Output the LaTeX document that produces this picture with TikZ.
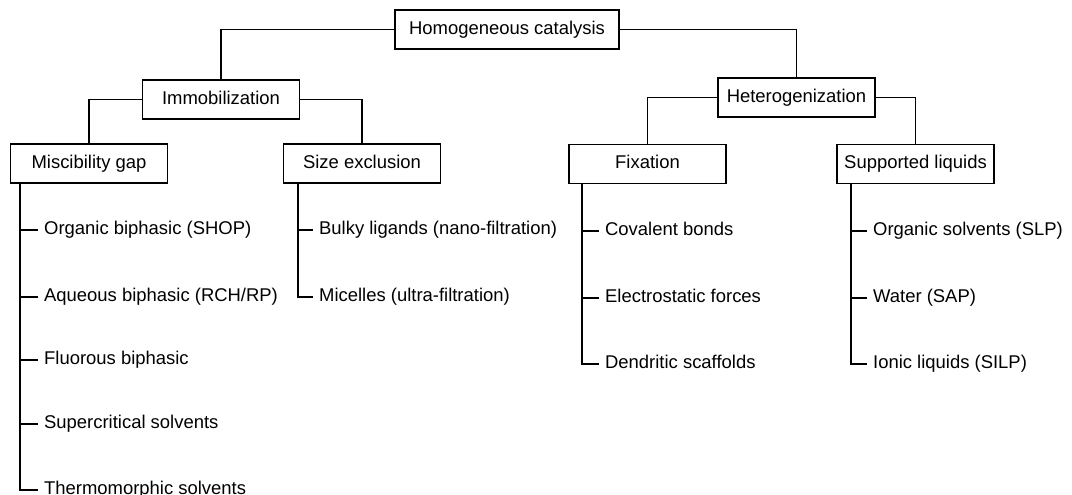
\documentclass[tikz,border=0pt]{standalone}
\usepackage{fontspec}
\setmainfont{Liberation Sans}
\usepackage{tikz}

\begin{document}
\begin{tikzpicture}[x=0.02cm, y=-0.02cm, line width=1pt, font=\fontsize{10.5}{12}\selectfont,
        box/.style={draw, minimum width=3.14cm, minimum height=0.78cm, text height=0.75em, text depth=0.22em},
        leaf/.style={anchor=west, inner sep=3pt, text height=0.75em, text depth=0.22em}]
        \useasboundingbox (0,0) rectangle (1072,494);
        % boxes
        \node[box, minimum width=4.48cm] (homo) at (507,29.5) {Homogeneous catalysis};
        \node[box] (immo) at (221,99.5) {Immobilization};
        \node[box] (hetero) at (796.5,97.5) {Heterogenization};
        \node[box] (misc) at (89,163.5) {Miscibility gap};
        \node[box] (size) at (362,163.5) {Size exclusion};
        \node[box] (fix) at (647.5,164) {Fixation};
        \node[box] (supp) at (915.5,164) {Supported liquids};
        \draw (homo.west) -| (immo.north);
        \draw (homo.east) -| (hetero.north);
        \draw (immo.west) -| (misc.north);
        \draw (immo.east) -| (size.north);
        \draw (hetero.west) -| (fix.north);
        \draw (hetero.east) -| (supp.north);
        % leaves
        \node[leaf] (m1) at (38,230) {Organic biphasic (SHOP)};
        \node[leaf] (m2) at (38,297) {Aqueous biphasic (RCH/RP)};
        \node[leaf] (m3) at (38,360) {Fluorous biphasic};
        \node[leaf] (m4) at (38,424) {Supercritical solvents};
        \node[leaf] (m5) at (38,490) {Thermomorphic solvents};
        \node[leaf] (s1) at (313,230) {Bulky ligands (nano-filtration)};
        \node[leaf] (s2) at (313,297) {Micelles (ultra-filtration)};
        \node[leaf] (f1) at (599,231) {Covalent bonds};
        \node[leaf] (f2) at (599,298) {Electrostatic forces};
        \node[leaf] (f3) at (599,364) {Dendritic scaffolds};
        \node[leaf] (l1) at (867,231) {Organic solvents (SLP)};
        \node[leaf] (l2) at (867,298) {Water (SAP)};
        \node[leaf] (l3) at (867,364) {Ionic liquids (SILP)};
        \coordinate (mtop) at ([xshift=0.2cm]misc.south west);
        \coordinate (stop) at ([xshift=0.3cm]size.south west);
        \coordinate (ftop) at ([xshift=0.28cm]fix.south west);
        \coordinate (ltop) at ([xshift=0.3cm]supp.south west);
        \draw (mtop) |- (m5.west);
        \draw (stop) |- (s2.west);
        \draw (ftop) |- (f3.west);
        \draw (ltop) |- (l3.west);
        \foreach \i in {1,...,4} \draw (m\i.west) -- (m\i.west -| mtop);
        \draw (s1.west) -- (s1.west -| stop);
        \foreach \i in {1,2} {
            \draw (f\i.west) -- (f\i.west -| ftop);
            \draw (l\i.west) -- (l\i.west -| ltop);
        }
\end{tikzpicture}
\end{document}
